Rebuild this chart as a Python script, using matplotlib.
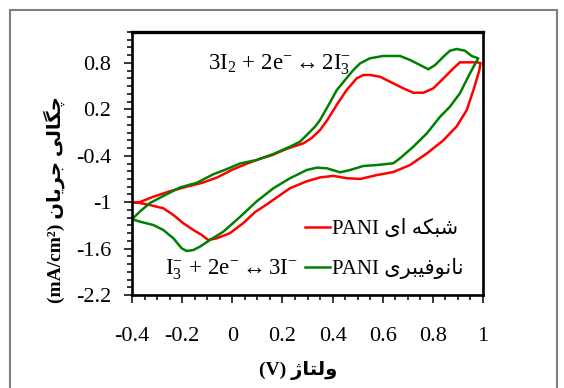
import matplotlib
matplotlib.use('Agg')
import matplotlib.pyplot as plt
from matplotlib.ticker import FixedLocator, MultipleLocator
from matplotlib import font_manager, ft2font
from matplotlib.font_manager import FontProperties
from matplotlib.patches import Rectangle

# ---------------- data ----------------
net_v = [-0.40, -0.37, -0.315, -0.25, -0.182, -0.12, -0.06, 0.00, 0.06, 0.11, 0.16, 0.217, 0.283, 0.317,
         0.35, 0.379, 0.417, 0.456, 0.496, 0.523, 0.55, 0.589, 0.642, 0.682, 0.722, 0.762, 0.802, 0.842,
         0.882, 0.908, 0.975, 0.99,
         0.985, 0.962, 0.935, 0.895, 0.842, 0.776, 0.709, 0.642, 0.576, 0.51, 0.456, 0.403, 0.35, 0.297,
         0.23, 0.137, 0.09, 0.044, -0.009, -0.062, -0.096, -0.122, -0.155, -0.195, -0.235, -0.275, -0.33,
         -0.37, -0.40]
net_i = [-1.00, -1.00, -0.93, -0.86, -0.80, -0.75, -0.68, -0.58, -0.50, -0.44, -0.39, -0.31, -0.24, -0.17,
         -0.067, 0.062, 0.26, 0.45, 0.60, 0.644, 0.645, 0.622, 0.537, 0.472, 0.415, 0.415, 0.472, 0.60,
         0.73, 0.808, 0.808, 0.80,
         0.70, 0.45, 0.19, -0.02, -0.20, -0.37, -0.52, -0.61, -0.65, -0.70, -0.69, -0.66, -0.68, -0.73,
         -0.82, -1.03, -1.13, -1.27, -1.40, -1.467, -1.489, -1.424, -1.36, -1.273, -1.166, -1.079, -1.036,
         -1.01, -1.00]

nano_v = [-0.40, -0.368, -0.328, -0.275, -0.209, -0.142, -0.076, -0.02, 0.031, 0.097, 0.164, 0.23, 0.27,
          0.297, 0.33, 0.35, 0.383, 0.417, 0.455, 0.483, 0.51, 0.549, 0.602, 0.669, 0.709, 0.749, 0.782,
          0.809, 0.842, 0.868, 0.895, 0.928, 0.955, 0.981,
          0.948, 0.908, 0.868, 0.829, 0.776, 0.722, 0.669, 0.642, 0.576, 0.523, 0.47, 0.43, 0.377, 0.337,
          0.297, 0.23, 0.164, 0.097, 0.031, -0.036, -0.089, -0.129, -0.155, -0.182, -0.202, -0.235, -0.275,
          -0.315, -0.368, -0.40]
nano_i = [-1.22, -1.12, -1.01, -0.92, -0.81, -0.75, -0.64, -0.57, -0.50, -0.455, -0.377, -0.283, -0.218,
          -0.132, -0.024, 0.062, 0.25, 0.45, 0.60, 0.709, 0.795, 0.86, 0.89, 0.89, 0.838, 0.773, 0.718,
          0.773, 0.88, 0.958, 0.98, 0.958, 0.89, 0.86,
          0.666, 0.408, 0.234, 0.105, -0.11, -0.283, -0.433, -0.497, -0.52, -0.532, -0.584, -0.614, -0.562,
          -0.554, -0.584, -0.691, -0.82, -0.99, -1.19, -1.382, -1.489, -1.575, -1.618, -1.631, -1.596,
          -1.467, -1.36, -1.295, -1.252, -1.22]

x_ticks = [-0.4, -0.2, 0.0, 0.2, 0.4, 0.6, 0.8, 1.0]
x_tick_labels = ['-0.4', '-0.2', '0', '0.2', '0.4', '0.6', '0.8', '1']
y_ticks = [0.8, 0.2, -0.4, -1.0, -1.6, -2.2]
y_tick_labels = ['0.8', '0.2', '-0.4', '-1', '-1.6', '-2.2']

label_net = 'شبکه ای PANI'
label_nano = 'نانوفیبری PANI'
x_label = 'ولتاژ (V)'
y_label = 'چگالی جریان (mA/cm²)'
eq_top = r'$\mathrm{3I_2\,+\,2e^{-}\leftrightarrow 2I_3^{-}}$'
eq_bottom = r'$\mathrm{I_3^{-}\,+\,2e^{-}\leftrightarrow 3I^{-}}$'

# ---------------- Persian shaping (presentation forms + visual order) ----------------
FORMS = {  # isolated, final, initial, medial
    '\u0627': ('\uFE8D', '\uFE8E', None, None),
    '\u0628': ('\uFE8F', '\uFE90', '\uFE91', '\uFE92'),
    '\u062A': ('\uFE95', '\uFE96', '\uFE97', '\uFE98'),
    '\u062C': ('\uFE9D', '\uFE9E', '\uFE9F', '\uFEA0'),
    '\u0631': ('\uFEAD', '\uFEAE', None, None),
    '\u0634': ('\uFEB5', '\uFEB6', '\uFEB7', '\uFEB8'),
    '\u0641': ('\uFED1', '\uFED2', '\uFED3', '\uFED4'),
    '\u0644': ('\uFEDD', '\uFEDE', '\uFEDF', '\uFEE0'),
    '\u0646': ('\uFEE5', '\uFEE6', '\uFEE7', '\uFEE8'),
    '\u0647': ('\uFEE9', '\uFEEA', '\uFEEB', '\uFEEC'),
    '\u0648': ('\uFEED', '\uFEEE', None, None),
    '\u06CC': ('\uFBFC', '\uFBFD', '\uFBFE', '\uFBFF'),
    '\u06A9': ('\uFB8E', '\uFB8F', '\uFB90', '\uFB91'),
    '\u06AF': ('\uFB92', '\uFB93', '\uFB94', '\uFB95'),
    '\u0686': ('\uFB7A', '\uFB7B', '\uFB7C', '\uFB7D'),
    '\u0698': ('\uFB8A', '\uFB8B', None, None),
}
NORMAL = {'\u064A': '\u06CC', '\u0643': '\u06A9'}


def _charmap(weight):
    path = font_manager.findfont(FontProperties(family='DejaVu Sans', weight=weight))
    return set(ft2font.FT2Font(path).get_charmap().keys())


CMAPS = {'normal': _charmap('normal'), 'bold': _charmap('bold')}


def is_ar(c):
    return c in FORMS or '\u0600' <= c <= '\u06FF'


def shape_word(word, weight):
    word = [NORMAL.get(c, c) for c in word]
    out = []
    for k, c in enumerate(word):
        f = FORMS.get(c)
        if f is None:
            out.append(c)
            continue
        prev_joins = k > 0 and word[k - 1] in FORMS and FORMS[word[k - 1]][2] is not None
        next_joins = f[2] is not None and k + 1 < len(word) and word[k + 1] in FORMS
        if prev_joins and next_joins:
            g = f[3]
        elif prev_joins:
            g = f[1]
        elif next_joins:
            g = f[2]
        else:
            g = f[0]
        out.append(g if ord(g) in CMAPS[weight] else c)
    return ''.join(reversed(out))


def visual(text, weight='normal'):
    tokens = []
    for c in text:
        kind = 'a' if is_ar(c) else ('s' if c == ' ' else 'l')
        if tokens and tokens[-1][0] == kind:
            tokens[-1][1] += c
        else:
            tokens.append([kind, c])
    parts = []
    for kind, s in reversed(tokens):
        parts.append(shape_word(s, weight) if kind == 'a' else s)
    return ''.join(parts)


# ---------------- style ----------------
plt.rcParams['font.family'] = ['Liberation Serif', 'DejaVu Sans']
plt.rcParams['axes.unicode_minus'] = False
plt.rcParams['mathtext.fontset'] = 'custom'
plt.rcParams['mathtext.rm'] = 'Liberation Serif'
plt.rcParams['mathtext.it'] = 'Liberation Serif:italic'
plt.rcParams['mathtext.bf'] = 'Liberation Serif:bold'

W, H = 564, 388
fig = plt.figure(figsize=(W / 100, H / 100), dpi=100)
L, R, T, B = 132, 483, 32, 295
ax = fig.add_axes([L / W, (H - B) / H, (R - L) / W, (B - T) / H])

ax.plot(net_v, net_i, color='#ff0000', lw=1.8, label=visual(label_net))
ax.plot(nano_v, nano_i, color='#008000', lw=1.8, label=visual(label_nano))

ax.set_xlim(-0.4, 1.0)
ax.set_ylim(-2.2, 1.2)
ax.xaxis.set_major_locator(FixedLocator(x_ticks))
ax.set_xticklabels(x_tick_labels)
ax.yaxis.set_major_locator(FixedLocator(y_ticks))
ax.set_yticklabels(y_tick_labels)
ax.xaxis.set_minor_locator(MultipleLocator(0.05))
ax.yaxis.set_minor_locator(MultipleLocator(0.1))
ax.tick_params(which='major', direction='out', length=5.8, width=1.1, labelsize=16)
ax.tick_params(which='minor', direction='out', length=3.6, width=1.1)
ax.tick_params(axis='x', which='major', pad=17.5)
ax.tick_params(axis='y', which='major', pad=9)
for sp in ax.spines.values():
    sp.set_linewidth(1.9)
ax.spines['top'].set_linewidth(2.4)

ax.text(0.19, 0.709, eq_top, ha='center', va='baseline', fontsize=16.5)
ax.text(-0.005, -1.94, eq_bottom, ha='center', va='baseline', fontsize=16.5)

leg = ax.legend(loc='lower right', bbox_to_anchor=(0.945, 0.06), frameon=False,
                handlelength=1.2, handletextpad=0.12, labelspacing=0.9,
                borderaxespad=0, borderpad=0,
                prop=FontProperties(family=['Liberation Serif', 'DejaVu Sans'], size=15))

ax.set_xlabel(visual(x_label, 'bold'), fontsize=14, fontweight='bold')
ax.xaxis.set_label_coords((298 - L) / (R - L), (B - 361) / (B - T))
ax.set_ylabel(visual(y_label, 'bold'), fontsize=14, fontweight='bold')
ax.yaxis.set_label_coords((65 - L) / (R - L), (B - 200) / (B - T))

fig.patches.append(Rectangle((10 / W, -0.1), (557 - 10) / W, (H - 10) / H + 0.1,
                             transform=fig.transFigure, fill=False,
                             edgecolor='#808080', lw=1.5))

fig.savefig('out.png', dpi=100)
